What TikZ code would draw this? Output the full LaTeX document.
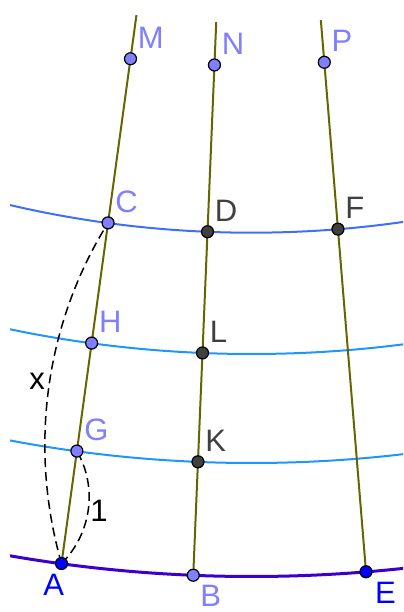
\documentclass[tikz,border=0pt]{standalone}
\usepackage{fontspec}
\setmainfont{Liberation Sans}
\usepackage{xcolor}
\usetikzlibrary{calc, backgrounds}
\definecolor{geoOlive}{HTML}{666600}
\definecolor{geoRoyal}{HTML}{3D6EFF}
\definecolor{geoSky}{HTML}{1E96FF}
\definecolor{geoIndigo}{HTML}{3D00CC}
\definecolor{geoLilac}{HTML}{7F7FFF}
\definecolor{geoGrey}{HTML}{404040}
\definecolor{geoBlue}{HTML}{0000FF}
\tikzset{
  dot/.style={circle, draw=black, line width=0.6pt, inner sep=0pt, minimum size=6pt},
  lbl/.style={anchor=base west, inner sep=0pt},
  meridian/.style={draw=geoOlive, line width=1pt},
  parallel/.style={line width=1pt},
  guess/.style={dash pattern=on 4.5pt off 2.5pt, line width=0.75pt}
}
% point: name, angle, radius, colour, label offset
\newcommand{\gpt}[5]{%
  \node[dot, fill=#4] (#1) at ($(O)+(#2:#3)$) {};
  \node[lbl, text=#4] (#1txt) at ($(#1)+(#5)$) {#1};
}

\begin{document}
\begin{tikzpicture}[x=0.5pt, y=0.5pt, font=\fontsize{15.5}{18}\selectfont]
    \useasboundingbox (0,0) rectangle (403,612);
    \coordinate (O) at (251.5,1439);

    % Points on the three meridians
    \gpt{A}{262.22}{1403.5}{geoBlue}{-18.6,-31.7}
    \gpt{G}{262.22}{1290}{geoLilac}{7,10.5}
    \gpt{H}{262.22}{1181}{geoLilac}{7,10.5}
    \gpt{C}{262.22}{1059.7}{geoLilac}{7,10.5}
    \gpt{M}{262.22}{894}{geoLilac}{7,10.5}

    \gpt{B}{267.62}{1403.5}{geoLilac}{6.7,-31.7}
    \gpt{K}{267.62}{1290}{geoGrey}{7,10.5}
    \gpt{L}{267.62}{1181}{geoGrey}{7,10.5}
    \gpt{D}{267.62}{1059.7}{geoGrey}{7,10.5}
    \gpt{N}{267.62}{892.8}{geoLilac}{7,10.5}

    \gpt{E}{274.68}{1403.5}{geoBlue}{8.6,-31.7}
    \gpt{F}{274.68}{1059.7}{geoGrey}{7,10.5}
    \gpt{P}{274.68}{892.3}{geoLilac}{7,10.5}

    \coordinate (Mtop) at ($(O)+(262.22:850)$);
    \coordinate (Ntop) at ($(O)+(267.62:850)$);
    \coordinate (Ptop) at ($(O)+(274.68:850)$);

    % Lines and circles
    \begin{scope}[on background layer]
        \clip (10,0) rectangle (403,604);
        \draw[parallel, geoIndigo, line width=1.5pt] (O) circle[radius=1403.5];
        \draw[parallel, geoSky] (O) circle[radius=1290];
        \draw[parallel, geoSky] (O) circle[radius=1181];
        \draw[parallel, geoRoyal] (O) circle[radius=1059.7];

        \draw[meridian] (A.center) -- (Mtop);
        \draw[meridian] (B.center) -- (Ntop);
        \draw[meridian] (E.center) -- (Ptop);

        % Arc lengths
        \draw[guess] (A.center) to[out=106, in=238, looseness=0.89] (C.center);
        \draw[guess] (A.center) to[out=45, in=300, looseness=0.95] (G.center);
    \end{scope}

    \node[lbl] (xlen) at (29,222) {x};
    \node[lbl] (onelen) at (90,90.3) {1};
\end{tikzpicture}
\end{document}
